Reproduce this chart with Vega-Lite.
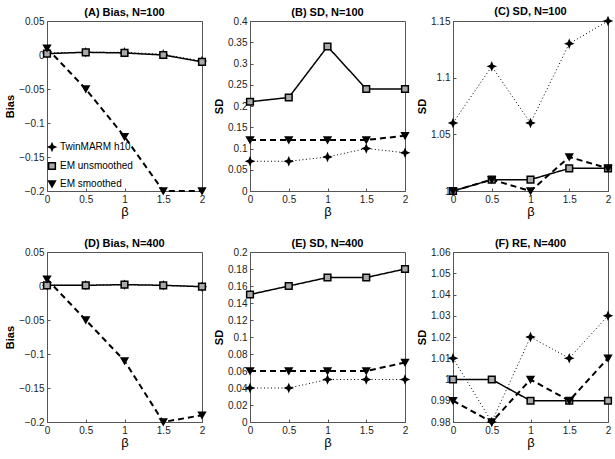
{
  "$schema": "https://vega.github.io/schema/vega-lite/v6.json",
  "padding": {"left": 4, "top": 5, "right": 4, "bottom": 5},
  "datasets": {
    "d": [
      {"panel":"A","series":"TwinMARM h10","beta":0,"value":0.003},
      {"panel":"A","series":"TwinMARM h10","beta":0.5,"value":0.004},
      {"panel":"A","series":"TwinMARM h10","beta":1,"value":0.004},
      {"panel":"A","series":"TwinMARM h10","beta":1.5,"value":0.001},
      {"panel":"A","series":"TwinMARM h10","beta":2,"value":-0.009},
      {"panel":"A","series":"EM unsmoothed","beta":0,"value":0.002},
      {"panel":"A","series":"EM unsmoothed","beta":0.5,"value":0.004},
      {"panel":"A","series":"EM unsmoothed","beta":1,"value":0.003},
      {"panel":"A","series":"EM unsmoothed","beta":1.5,"value":0.0},
      {"panel":"A","series":"EM unsmoothed","beta":2,"value":-0.01},
      {"panel":"A","series":"EM smoothed","beta":0,"value":0.01},
      {"panel":"A","series":"EM smoothed","beta":0.5,"value":-0.05},
      {"panel":"A","series":"EM smoothed","beta":1,"value":-0.12},
      {"panel":"A","series":"EM smoothed","beta":1.5,"value":-0.2},
      {"panel":"A","series":"EM smoothed","beta":2,"value":-0.2},

      {"panel":"B","series":"TwinMARM h10","beta":0,"value":0.07},
      {"panel":"B","series":"TwinMARM h10","beta":0.5,"value":0.07},
      {"panel":"B","series":"TwinMARM h10","beta":1,"value":0.08},
      {"panel":"B","series":"TwinMARM h10","beta":1.5,"value":0.10},
      {"panel":"B","series":"TwinMARM h10","beta":2,"value":0.09},
      {"panel":"B","series":"EM unsmoothed","beta":0,"value":0.21},
      {"panel":"B","series":"EM unsmoothed","beta":0.5,"value":0.22},
      {"panel":"B","series":"EM unsmoothed","beta":1,"value":0.34},
      {"panel":"B","series":"EM unsmoothed","beta":1.5,"value":0.24},
      {"panel":"B","series":"EM unsmoothed","beta":2,"value":0.24},
      {"panel":"B","series":"EM smoothed","beta":0,"value":0.12},
      {"panel":"B","series":"EM smoothed","beta":0.5,"value":0.12},
      {"panel":"B","series":"EM smoothed","beta":1,"value":0.12},
      {"panel":"B","series":"EM smoothed","beta":1.5,"value":0.12},
      {"panel":"B","series":"EM smoothed","beta":2,"value":0.13},

      {"panel":"C","series":"TwinMARM h10","beta":0,"value":1.06},
      {"panel":"C","series":"TwinMARM h10","beta":0.5,"value":1.11},
      {"panel":"C","series":"TwinMARM h10","beta":1,"value":1.06},
      {"panel":"C","series":"TwinMARM h10","beta":1.5,"value":1.13},
      {"panel":"C","series":"TwinMARM h10","beta":2,"value":1.15},
      {"panel":"C","series":"EM unsmoothed","beta":0,"value":1.0},
      {"panel":"C","series":"EM unsmoothed","beta":0.5,"value":1.01},
      {"panel":"C","series":"EM unsmoothed","beta":1,"value":1.01},
      {"panel":"C","series":"EM unsmoothed","beta":1.5,"value":1.02},
      {"panel":"C","series":"EM unsmoothed","beta":2,"value":1.02},
      {"panel":"C","series":"EM smoothed","beta":0,"value":1.0},
      {"panel":"C","series":"EM smoothed","beta":0.5,"value":1.01},
      {"panel":"C","series":"EM smoothed","beta":1,"value":1.0},
      {"panel":"C","series":"EM smoothed","beta":1.5,"value":1.03},
      {"panel":"C","series":"EM smoothed","beta":2,"value":1.02},

      {"panel":"D","series":"TwinMARM h10","beta":0,"value":0.001},
      {"panel":"D","series":"TwinMARM h10","beta":0.5,"value":0.001},
      {"panel":"D","series":"TwinMARM h10","beta":1,"value":0.002},
      {"panel":"D","series":"TwinMARM h10","beta":1.5,"value":0.001},
      {"panel":"D","series":"TwinMARM h10","beta":2,"value":-0.001},
      {"panel":"D","series":"EM unsmoothed","beta":0,"value":0.001},
      {"panel":"D","series":"EM unsmoothed","beta":0.5,"value":0.001},
      {"panel":"D","series":"EM unsmoothed","beta":1,"value":0.002},
      {"panel":"D","series":"EM unsmoothed","beta":1.5,"value":0.001},
      {"panel":"D","series":"EM unsmoothed","beta":2,"value":-0.001},
      {"panel":"D","series":"EM smoothed","beta":0,"value":0.01},
      {"panel":"D","series":"EM smoothed","beta":0.5,"value":-0.05},
      {"panel":"D","series":"EM smoothed","beta":1,"value":-0.11},
      {"panel":"D","series":"EM smoothed","beta":1.5,"value":-0.2},
      {"panel":"D","series":"EM smoothed","beta":2,"value":-0.19},

      {"panel":"E","series":"TwinMARM h10","beta":0,"value":0.04},
      {"panel":"E","series":"TwinMARM h10","beta":0.5,"value":0.04},
      {"panel":"E","series":"TwinMARM h10","beta":1,"value":0.05},
      {"panel":"E","series":"TwinMARM h10","beta":1.5,"value":0.05},
      {"panel":"E","series":"TwinMARM h10","beta":2,"value":0.05},
      {"panel":"E","series":"EM unsmoothed","beta":0,"value":0.15},
      {"panel":"E","series":"EM unsmoothed","beta":0.5,"value":0.16},
      {"panel":"E","series":"EM unsmoothed","beta":1,"value":0.17},
      {"panel":"E","series":"EM unsmoothed","beta":1.5,"value":0.17},
      {"panel":"E","series":"EM unsmoothed","beta":2,"value":0.18},
      {"panel":"E","series":"EM smoothed","beta":0,"value":0.06},
      {"panel":"E","series":"EM smoothed","beta":0.5,"value":0.06},
      {"panel":"E","series":"EM smoothed","beta":1,"value":0.06},
      {"panel":"E","series":"EM smoothed","beta":1.5,"value":0.06},
      {"panel":"E","series":"EM smoothed","beta":2,"value":0.07},

      {"panel":"F","series":"TwinMARM h10","beta":0,"value":1.01},
      {"panel":"F","series":"TwinMARM h10","beta":0.5,"value":0.98},
      {"panel":"F","series":"TwinMARM h10","beta":1,"value":1.02},
      {"panel":"F","series":"TwinMARM h10","beta":1.5,"value":1.01},
      {"panel":"F","series":"TwinMARM h10","beta":2,"value":1.03},
      {"panel":"F","series":"EM unsmoothed","beta":0,"value":1.0},
      {"panel":"F","series":"EM unsmoothed","beta":0.5,"value":1.0},
      {"panel":"F","series":"EM unsmoothed","beta":1,"value":0.99},
      {"panel":"F","series":"EM unsmoothed","beta":1.5,"value":0.99},
      {"panel":"F","series":"EM unsmoothed","beta":2,"value":0.99},
      {"panel":"F","series":"EM smoothed","beta":0,"value":0.99},
      {"panel":"F","series":"EM smoothed","beta":0.5,"value":0.98},
      {"panel":"F","series":"EM smoothed","beta":1,"value":1.0},
      {"panel":"F","series":"EM smoothed","beta":1.5,"value":0.99},
      {"panel":"F","series":"EM smoothed","beta":2,"value":1.01}
    ]
  },
  "columns": 3,
  "spacing": {"column": 4, "row": 18},
  "resolve": {"legend": {"shape": "independent", "fill": "independent", "stroke": "independent"}},
  "concat": [
    {
      "width": 155, "height": 170,
      "title": "(A) Bias, N=100",
      "data": {"name": "d"},
      "transform": [{"filter": "datum.panel == 'A'"}],
      "encoding": {
        "x": {"field": "beta", "type": "quantitative", "scale": {"domain": [0, 2], "nice": false}, "axis": {"values": [0, 0.5, 1, 1.5, 2], "format": "~g", "title": "β"}},
        "y": {"field": "value", "type": "quantitative", "scale": {"domain": [-0.2, 0.05], "nice": false, "zero": false}, "axis": {"values": [-0.2, -0.15, -0.1, -0.05, 0, 0.05], "format": "~g", "title": "Bias"}}
      },
      "layer": [
        {"mark": {"type": "line", "color": "black"},
         "encoding": {
           "strokeDash": {"field": "series", "type": "nominal", "scale": {"domain": ["TwinMARM h10", "EM unsmoothed", "EM smoothed"], "range": [[1, 2.5], [1, 0], [6, 4]]}, "legend": null},
           "strokeWidth": {"field": "series", "type": "nominal", "scale": {"domain": ["TwinMARM h10", "EM unsmoothed", "EM smoothed"], "range": [1, 2, 2]}, "legend": null}
         }},
        {"mark": {"type": "point", "stroke": "black", "strokeWidth": 1.5, "opacity": 1, "size": 45},
         "encoding": {
           "shape": {"field": "series", "type": "nominal", "scale": {"domain": ["TwinMARM h10", "EM unsmoothed", "EM smoothed"], "range": ["M0,-1L0.3,-0.3L1,0L0.3,0.3L0,1L-0.3,0.3L-1,0L-0.3,-0.3Z", "square", "triangle-down"]},
             "legend": {"orient": "none", "legendX": 0, "legendY": 121, "title": null, "labelFontSize": 10, "labelColor": "black", "rowPadding": 5, "symbolSize": 45, "labelOffset": 3, "symbolStrokeWidth": 1.5}},
           "fill": {"field": "series", "type": "nominal", "scale": {"domain": ["TwinMARM h10", "EM unsmoothed", "EM smoothed"], "range": ["black", "#aaaaaa", "black"]},
             "legend": {"orient": "none", "legendX": 0, "legendY": 121, "title": null, "labelFontSize": 10, "labelColor": "black", "rowPadding": 5, "symbolSize": 45, "labelOffset": 3, "symbolStrokeWidth": 1.5}},
           "stroke": {"field": "series", "type": "nominal", "scale": {"domain": ["TwinMARM h10", "EM unsmoothed", "EM smoothed"], "range": ["black", "black", "black"]},
             "legend": {"orient": "none", "legendX": 0, "legendY": 121, "title": null, "labelFontSize": 10, "labelColor": "black", "rowPadding": 5, "symbolSize": 45, "labelOffset": 3, "symbolStrokeWidth": 1.5}}
         }}
      ]
    },
    {
      "width": 155, "height": 170,
      "title": "(B) SD, N=100",
      "data": {"name": "d"},
      "transform": [{"filter": "datum.panel == 'B'"}],
      "encoding": {
        "x": {"field": "beta", "type": "quantitative", "scale": {"domain": [0, 2], "nice": false}, "axis": {"values": [0, 0.5, 1, 1.5, 2], "format": "~g", "title": "β"}},
        "y": {"field": "value", "type": "quantitative", "scale": {"domain": [0, 0.4], "nice": false, "zero": false}, "axis": {"values": [0, 0.05, 0.1, 0.15, 0.2, 0.25, 0.3, 0.35, 0.4], "format": "~g", "title": "SD"}}
      },
      "layer": [
        {"mark": {"type": "line", "color": "black"},
         "encoding": {
           "strokeDash": {"field": "series", "type": "nominal", "scale": {"domain": ["TwinMARM h10", "EM unsmoothed", "EM smoothed"], "range": [[1, 2.5], [1, 0], [6, 4]]}, "legend": null},
           "strokeWidth": {"field": "series", "type": "nominal", "scale": {"domain": ["TwinMARM h10", "EM unsmoothed", "EM smoothed"], "range": [1, 2, 2]}, "legend": null}
         }},
        {"mark": {"type": "point", "stroke": "black", "strokeWidth": 1.5, "opacity": 1, "size": 45},
         "encoding": {
           "shape": {"field": "series", "type": "nominal", "legend": null},
           "fill": {"field": "series", "type": "nominal", "legend": null}
         }}
      ]
    },
    {
      "width": 155, "height": 170,
      "title": "(C) SD, N=100",
      "data": {"name": "d"},
      "transform": [{"filter": "datum.panel == 'C'"}],
      "encoding": {
        "x": {"field": "beta", "type": "quantitative", "scale": {"domain": [0, 2], "nice": false}, "axis": {"values": [0, 0.5, 1, 1.5, 2], "format": "~g", "title": "β"}},
        "y": {"field": "value", "type": "quantitative", "scale": {"domain": [1, 1.15], "nice": false, "zero": false}, "axis": {"values": [1, 1.05, 1.1, 1.15], "format": "~g", "title": "SD"}}
      },
      "layer": [
        {"mark": {"type": "line", "color": "black"},
         "encoding": {
           "strokeDash": {"field": "series", "type": "nominal", "scale": {"domain": ["TwinMARM h10", "EM unsmoothed", "EM smoothed"], "range": [[1, 2.5], [1, 0], [6, 4]]}, "legend": null},
           "strokeWidth": {"field": "series", "type": "nominal", "scale": {"domain": ["TwinMARM h10", "EM unsmoothed", "EM smoothed"], "range": [1, 2, 2]}, "legend": null}
         }},
        {"mark": {"type": "point", "stroke": "black", "strokeWidth": 1.5, "opacity": 1, "size": 45},
         "encoding": {
           "shape": {"field": "series", "type": "nominal", "legend": null},
           "fill": {"field": "series", "type": "nominal", "legend": null}
         }}
      ]
    },
    {
      "width": 155, "height": 170,
      "title": "(D) Bias, N=400",
      "data": {"name": "d"},
      "transform": [{"filter": "datum.panel == 'D'"}],
      "encoding": {
        "x": {"field": "beta", "type": "quantitative", "scale": {"domain": [0, 2], "nice": false}, "axis": {"values": [0, 0.5, 1, 1.5, 2], "format": "~g", "title": "β"}},
        "y": {"field": "value", "type": "quantitative", "scale": {"domain": [-0.2, 0.05], "nice": false, "zero": false}, "axis": {"values": [-0.2, -0.15, -0.1, -0.05, 0, 0.05], "format": "~g", "title": "Bias"}}
      },
      "layer": [
        {"mark": {"type": "line", "color": "black"},
         "encoding": {
           "strokeDash": {"field": "series", "type": "nominal", "scale": {"domain": ["TwinMARM h10", "EM unsmoothed", "EM smoothed"], "range": [[1, 2.5], [1, 0], [6, 4]]}, "legend": null},
           "strokeWidth": {"field": "series", "type": "nominal", "scale": {"domain": ["TwinMARM h10", "EM unsmoothed", "EM smoothed"], "range": [1, 2, 2]}, "legend": null}
         }},
        {"mark": {"type": "point", "stroke": "black", "strokeWidth": 1.5, "opacity": 1, "size": 45},
         "encoding": {
           "shape": {"field": "series", "type": "nominal", "legend": null},
           "fill": {"field": "series", "type": "nominal", "legend": null}
         }}
      ]
    },
    {
      "width": 155, "height": 170,
      "title": "(E) SD, N=400",
      "data": {"name": "d"},
      "transform": [{"filter": "datum.panel == 'E'"}],
      "encoding": {
        "x": {"field": "beta", "type": "quantitative", "scale": {"domain": [0, 2], "nice": false}, "axis": {"values": [0, 0.5, 1, 1.5, 2], "format": "~g", "title": "β"}},
        "y": {"field": "value", "type": "quantitative", "scale": {"domain": [0, 0.2], "nice": false, "zero": false}, "axis": {"values": [0, 0.02, 0.04, 0.06, 0.08, 0.1, 0.12, 0.14, 0.16, 0.18, 0.2], "format": "~g", "title": "SD"}}
      },
      "layer": [
        {"mark": {"type": "line", "color": "black"},
         "encoding": {
           "strokeDash": {"field": "series", "type": "nominal", "scale": {"domain": ["TwinMARM h10", "EM unsmoothed", "EM smoothed"], "range": [[1, 2.5], [1, 0], [6, 4]]}, "legend": null},
           "strokeWidth": {"field": "series", "type": "nominal", "scale": {"domain": ["TwinMARM h10", "EM unsmoothed", "EM smoothed"], "range": [1, 2, 2]}, "legend": null}
         }},
        {"mark": {"type": "point", "stroke": "black", "strokeWidth": 1.5, "opacity": 1, "size": 45},
         "encoding": {
           "shape": {"field": "series", "type": "nominal", "legend": null},
           "fill": {"field": "series", "type": "nominal", "legend": null}
         }}
      ]
    },
    {
      "width": 155, "height": 170,
      "title": "(F) RE, N=400",
      "data": {"name": "d"},
      "transform": [{"filter": "datum.panel == 'F'"}],
      "encoding": {
        "x": {"field": "beta", "type": "quantitative", "scale": {"domain": [0, 2], "nice": false}, "axis": {"values": [0, 0.5, 1, 1.5, 2], "format": "~g", "title": "β"}},
        "y": {"field": "value", "type": "quantitative", "scale": {"domain": [0.98, 1.06], "nice": false, "zero": false}, "axis": {"values": [0.98, 0.99, 1, 1.01, 1.02, 1.03, 1.04, 1.05, 1.06], "format": "~g", "title": "SD"}}
      },
      "layer": [
        {"mark": {"type": "line", "color": "black"},
         "encoding": {
           "strokeDash": {"field": "series", "type": "nominal", "scale": {"domain": ["TwinMARM h10", "EM unsmoothed", "EM smoothed"], "range": [[1, 2.5], [1, 0], [6, 4]]}, "legend": null},
           "strokeWidth": {"field": "series", "type": "nominal", "scale": {"domain": ["TwinMARM h10", "EM unsmoothed", "EM smoothed"], "range": [1, 2, 2]}, "legend": null}
         }},
        {"mark": {"type": "point", "stroke": "black", "strokeWidth": 1.5, "opacity": 1, "size": 45},
         "encoding": {
           "shape": {"field": "series", "type": "nominal", "legend": null},
           "fill": {"field": "series", "type": "nominal", "legend": null}
         }}
      ]
    }
  ],
  "config": {
    "font": "Liberation Sans",
    "background": "white",
    "view": {"stroke": "#555", "strokeWidth": 1},
    "axis": {"grid": false, "domainColor": "#555", "tickColor": "#555", "tickSize": -3, "labelPadding": 6, "labelFontSize": 10, "labelColor": "#222", "titleFontSize": 11, "titleFontWeight": "bold", "titleColor": "black", "labelFlush": false, "labelOverlap": false},
    "axisX": {"titleFontWeight": "normal", "titleFontSize": 13, "titlePadding": 1},
    "axisY": {"titlePadding": 3},
    "title": {"fontSize": 11, "fontWeight": "bold", "offset": -2, "color": "black"}
  }
}
